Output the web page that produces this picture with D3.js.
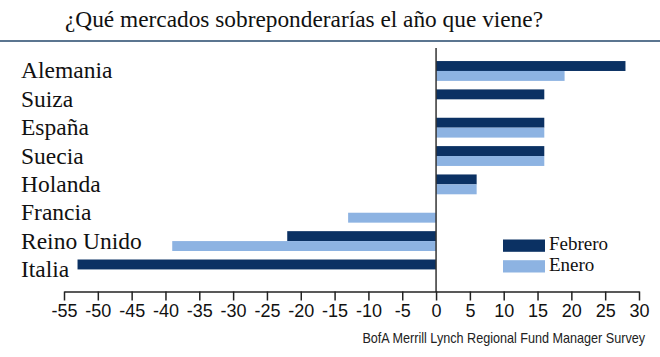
<!DOCTYPE html>
<html>
<head>
<meta charset="utf-8">
<script src="https://cdn.jsdelivr.net/npm/d3@7"></script>
<style>
  html, body { margin: 0; padding: 0; background: #fff; }
  svg { display: block; }
</style>
</head>
<body>
<svg id="chart" width="660" height="357"></svg>
<script>
const title = "¿Qué mercados sobreponderarías el año que viene?";
const source = "BofA Merrill Lynch Regional Fund Manager Survey";
const categories = ["Alemania", "Suiza", "España", "Suecia", "Holanda", "Francia", "Reino Unido", "Italia"];
const seriesNames = ["Febrero", "Enero"];
const febrero = [28, 16, 16, 16, 6, 0, -22, -53];
const enero = [19, 0, 16, 16, 6, -13, -39, 0];
const tickValues = [-55, -50, -45, -40, -35, -30, -25, -20, -15, -10, -5, 0, 5, 10, 15, 20, 25, 30];
const colors = ["#0b3163", "#8db3e2"];

const SERIF = "'Times New Roman', Tinos, 'Liberation Serif', serif";
const svg = d3.select("#chart");

// Title and rule
svg.append("text")
  .attr("x", 65).attr("y", 27)
  .style("font-family", SERIF)
  .attr("font-size", 24)
  .attr("fill", "#111")
  .attr("textLength", 478)
  .attr("lengthAdjust", "spacingAndGlyphs")
  .text(title);

svg.append("line")
  .attr("x1", 0).attr("x2", 660)
  .attr("y1", 41).attr("y2", 41)
  .attr("stroke", "#5b7590").attr("stroke-width", 2);

const x = d3.scaleLinear().domain([-55, 30]).range([64, 639]);
const y = d3.scaleBand().domain(categories).range([56.8, 283.6]).paddingInner(0.3).paddingOuter(0.15);
const ySub = d3.scaleBand().domain(seriesNames).range([0, y.bandwidth()]);

const data = [febrero, enero];

// Bars
const groups = svg.append("g");
categories.forEach((c, i) => {
  seriesNames.forEach((s, j) => {
    const v = data[j][i];
    if (v === 0) return;
    groups.append("rect")
      .attr("x", x(Math.min(0, v)))
      .attr("width", Math.abs(x(v) - x(0)))
      .attr("y", y(c) + ySub(s))
      .attr("height", ySub.bandwidth())
      .attr("fill", colors[j]);
  });
});

// Zero line
svg.append("line")
  .attr("x1", x(0)).attr("x2", x(0))
  .attr("y1", 48).attr("y2", 292)
  .attr("stroke", "#333").attr("stroke-width", 1.5);

// Category labels
svg.append("g").selectAll("text").data(categories).enter().append("text")
  .attr("x", 21)
  .attr("y", d => y(d) + y.bandwidth() / 2 + 7.5)
  .style("font-family", SERIF)
  .attr("font-size", 23.5)
  .attr("fill", "#111")
  .text(d => d);

// X axis
const axis = d3.axisBottom(x).tickValues(tickValues).tickFormat(d => String(d))
  .tickSize(9).tickSizeOuter(0).tickPadding(4);
const gx = svg.append("g").attr("transform", "translate(0,291.5)").call(axis);
gx.select(".domain").attr("stroke", "#222").attr("stroke-width", 1.5);
gx.selectAll(".tick line").attr("stroke", "#222").attr("stroke-width", 1.5);
gx.selectAll(".tick text")
  .style("font-family", "Arial, 'Liberation Sans', sans-serif")
  .attr("font-size", 18)
  .attr("fill", "#111");

// Legend
const legend = svg.append("g");
seriesNames.forEach((s, j) => {
  legend.append("rect")
    .attr("x", 503).attr("y", 239.5 + j * 20.7)
    .attr("width", 42).attr("height", 12.3)
    .attr("fill", colors[j]);
  legend.append("text")
    .attr("x", 549).attr("y", 249.5 + j * 21)
    .style("font-family", SERIF)
    .attr("font-size", 19)
    .attr("fill", "#111")
    .text(s);
});

// Source (narrow sans, emulated by horizontal scaling)
svg.append("text")
  .attr("transform", "translate(645,343) scale(0.87,1)")
  .attr("text-anchor", "end")
  .style("font-family", "Arial, 'Liberation Sans', sans-serif")
  .attr("font-size", 14.5)
  .attr("fill", "#222")
  .text(source);
</script>
</body>
</html>
